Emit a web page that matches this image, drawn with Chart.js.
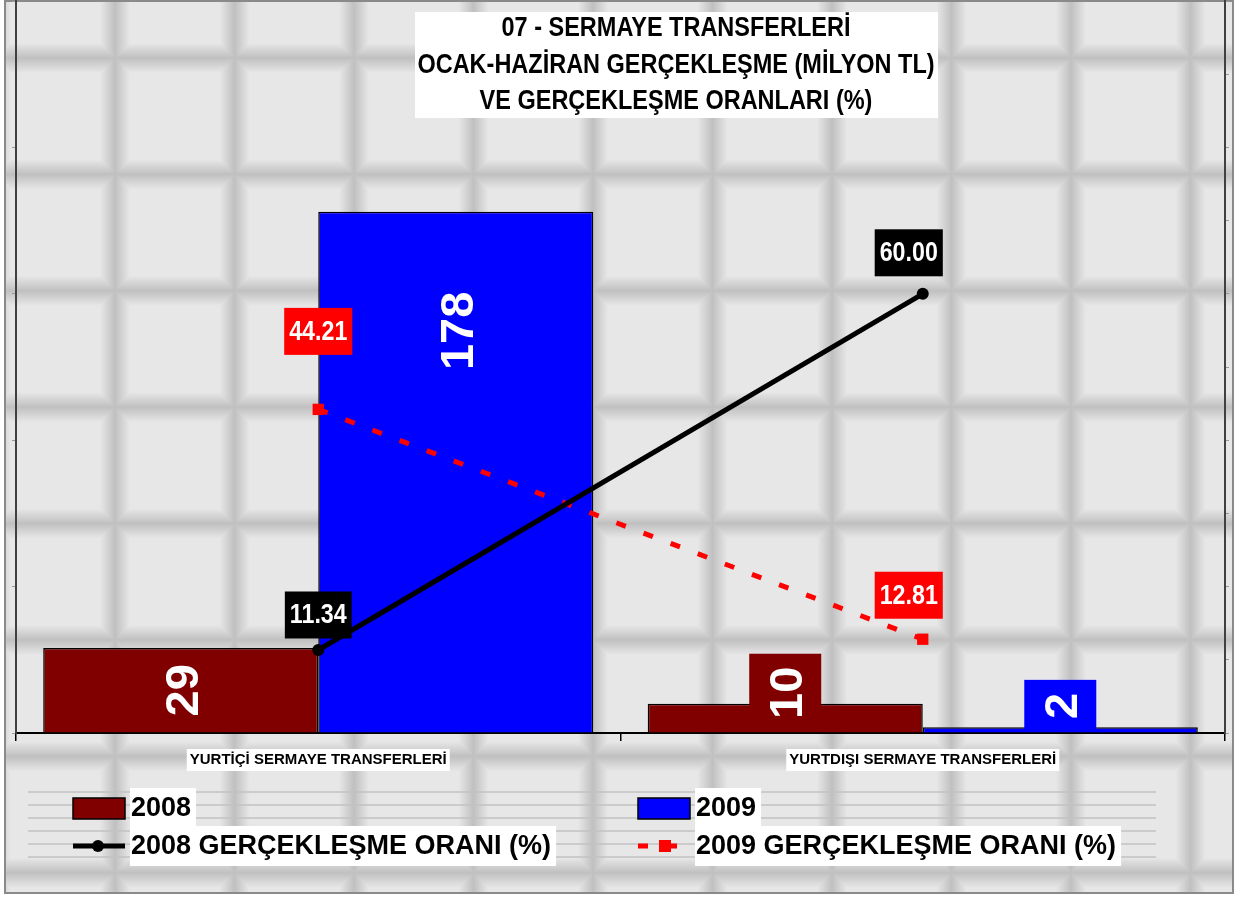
<!DOCTYPE html>
<html>
<head>
<meta charset="utf-8">
<script src="https://cdn.jsdelivr.net/npm/chart.js@4.4.1/dist/chart.umd.min.js"></script>
<style>
  html, body { margin: 0; padding: 0; background: #fff; }
  #wrap { width: 1240px; height: 898px; }
</style>
</head>
<body>
<div id="wrap"><canvas id="chart" width="1240" height="898"></canvas></div>
<script>
// values
const categories = ['YURTİÇİ SERMAYE TRANSFERLERİ', 'YURTDIŞI SERMAYE TRANSFERLERİ'];
const bars2008 = [29, 10];
const bars2009 = [178, 2];
const ratio2008 = [11.34, 60.00];
const ratio2009 = [44.21, 12.81];
const seriesLabels = ['2008', '2009', '2008 GERÇEKLEŞME ORANI (%)', '2009 GERÇEKLEŞME ORANI (%)'];
const titleLines = ['07 - SERMAYE TRANSFERLERİ', 'OCAK-HAZİRAN GERÇEKLEŞME (MİLYON TL)', 'VE GERÇEKLEŞME ORANLARI (%)'];

const FONT = '"Liberation Sans", Arial, sans-serif';

// text squeezed horizontally, like the narrow bold font of the original
function narrowText(ctx, txt, x, y, sx) {
    ctx.save();
    ctx.translate(x, y);
    ctx.scale(sx, 1);
    ctx.fillText(txt, 0, 0);
    ctx.restore();
}

function band(ctx, x0, y0, x1, y1) {
    const g = ctx.createLinearGradient(x0, y0, x1, y1);
    g.addColorStop(0, '#e7e7e7');
    g.addColorStop(0.5, '#c0c0c0');
    g.addColorStop(1, '#e7e7e7');
    return g;
}

// grey tiled backdrop + frame
const tileBackground = {
    id: 'tileBackground',
    beforeDraw(chart) {
        const ctx = chart.ctx, w = chart.width, h = chart.height;
        ctx.save();
        ctx.fillStyle = '#fff';
        ctx.fillRect(0, 0, w, h);
        ctx.beginPath();
        ctx.rect(5, 1, 1228, 892);
        ctx.clip();
        ctx.fillStyle = '#e7e7e7';
        ctx.fillRect(0, 0, w, h);
        ctx.globalCompositeOperation = 'darken';
        const px = 119.5, py = 116.4, half = 15;
        for (let x = 115 - px; x < w + px; x += px) {
            ctx.fillStyle = band(ctx, x - half, 0, x + half, 0);
            ctx.fillRect(x - half, 0, half * 2, h);
        }
        for (let y = 58 - py; y < h + py; y += py) {
            ctx.fillStyle = band(ctx, 0, y - half, 0, y + half);
            ctx.fillRect(0, y - half, w, half * 2);
        }
        ctx.restore();
        ctx.save();
        ctx.strokeStyle = '#8a8a8a';
        ctx.lineWidth = 2;
        ctx.strokeRect(5, 1, 1228, 892);
        ctx.restore();
    }
};

// white title box
const titleBox = {
    id: 'titleBox',
    afterDraw(chart) {
        const ctx = chart.ctx;
        ctx.save();
        ctx.fillStyle = '#fff';
        ctx.fillRect(415, 12, 523, 106);
        ctx.fillStyle = '#000';
        ctx.font = 'bold 27px ' + FONT;
        ctx.textAlign = 'center';
        ctx.textBaseline = 'middle';
        titleLines.forEach((line, i) => narrowText(ctx, line, 676, 29 + i * 36.5, 0.87));
        ctx.restore();
    }
};

// rotated white values on the bars
const barLabels = {
    id: 'barLabels',
    afterDatasetsDraw(chart, args, opts) {
        const ctx = chart.ctx;
        const base = chart.scales.y.getPixelForValue(0);
        chart.data.datasets.forEach((ds, di) => {
            if (ds.type !== 'bar') return;
            chart.getDatasetMeta(di).data.forEach((bar, i) => {
                const txt = String(ds.data[i]);
                ctx.save();
                ctx.font = 'bold 47px ' + FONT;
                const len = ctx.measureText(txt).width + 26;
                let cy = Math.min((bar.y + bar.base) / 2, bar.y + opts.maxDrop);
                if (cy + len / 2 > base - 1) cy = base - 1 - len / 2;
                ctx.fillStyle = ds.backgroundColor;
                ctx.fillRect(bar.x - 36, cy - len / 2, 72, len);
                ctx.translate(bar.x + 2, cy);
                ctx.rotate(-Math.PI / 2);
                ctx.fillStyle = '#fff';
                ctx.textAlign = 'center';
                ctx.textBaseline = 'middle';
                ctx.fillText(txt, 0, 2);
                ctx.restore();
            });
        });
    }
};

// boxed ratio values above the line points
const pointLabels = {
    id: 'pointLabels',
    afterDatasetsDraw(chart, args, opts) {
        const ctx = chart.ctx;
        chart.data.datasets.forEach((ds, di) => {
            if (ds.type !== 'line') return;
            chart.getDatasetMeta(di).data.forEach((pt, i) => {
                const txt = ds.data[i].toFixed(2);
                ctx.save();
                ctx.font = 'bold 27px ' + FONT;
                const bw = ctx.measureText(txt).width * 0.86 + 10, bh = 47;
                const cx = pt.x + opts.shift[i], cy = pt.y - opts.lift[di][i];
                ctx.fillStyle = ds.borderColor;
                ctx.fillRect(cx - bw / 2, cy - bh / 2, bw, bh);
                ctx.fillStyle = '#fff';
                ctx.textAlign = 'center';
                ctx.textBaseline = 'middle';
                narrowText(ctx, txt, cx, cy + 1, 0.86);
                ctx.restore();
            });
        });
    }
};

// two-column legend under the axis
const gridLegend = {
    id: 'gridLegend',
    afterDraw(chart, args, opts) {
        const ctx = chart.ctx;
        ctx.save();
        ctx.strokeStyle = '#c2c2c2';
        ctx.lineWidth = 1.5;
        for (let y = 792; y <= 858; y += 13) {
            ctx.beginPath();
            ctx.moveTo(28, y);
            ctx.lineTo(1156, y);
            ctx.stroke();
        }
        ctx.font = 'bold 27px ' + FONT;
        ctx.textBaseline = 'middle';
        chart.data.datasets.forEach((ds, i) => {
            const x = opts.cols[i % 2], y = opts.rows[Math.floor(i / 2)];
            const tw = ctx.measureText(ds.label).width;
            ctx.fillStyle = '#fff';
            ctx.fillRect(x + 57, y - 20, tw + 6, 40);
            ctx.fillStyle = '#000';
            ctx.fillText(ds.label, x + 58, y + 1);
            if (ds.type === 'bar') {
                ctx.fillStyle = ds.backgroundColor;
                ctx.fillRect(x, y - 10, 52, 21);
                ctx.strokeStyle = '#000';
                ctx.lineWidth = 1.5;
                ctx.strokeRect(x, y - 10, 52, 21);
            } else {
                ctx.strokeStyle = ds.borderColor;
                ctx.lineWidth = ds.borderWidth;
                ctx.setLineDash(ds.borderDash || []);
                ctx.beginPath();
                ctx.moveTo(x, y);
                ctx.lineTo(x + 52, y);
                ctx.stroke();
                ctx.setLineDash([]);
                ctx.fillStyle = ds.pointBackgroundColor;
                if (ds.pointStyle === 'rect') {
                    ctx.fillRect(x + 21, y - 6, 12, 12);
                } else {
                    ctx.beginPath();
                    ctx.arc(x + 25, y, 6, 0, Math.PI * 2);
                    ctx.fill();
                }
            }
        });
        ctx.restore();
    }
};

new Chart(document.getElementById('chart'), {
    data: {
        labels: categories,
        datasets: [
            {
                type: 'bar', label: seriesLabels[0], data: bars2008, yAxisID: 'y', order: 2,
                backgroundColor: '#800000', borderColor: '#000', borderWidth: 1.5,
                barPercentage: 1.0, categoryPercentage: 0.91
            },
            {
                type: 'bar', label: seriesLabels[1], data: bars2009, yAxisID: 'y', order: 2,
                backgroundColor: '#0000ff', borderColor: '#000', borderWidth: 1.5,
                barPercentage: 1.0, categoryPercentage: 0.91
            },
            {
                type: 'line', label: seriesLabels[2], data: ratio2008, yAxisID: 'y1', order: 1,
                borderColor: '#000', borderWidth: 5, tension: 0, fill: false,
                pointStyle: 'circle', pointRadius: 6, pointBackgroundColor: '#000', pointBorderWidth: 0
            },
            {
                type: 'line', label: seriesLabels[3], data: ratio2009, yAxisID: 'y1', order: 1,
                borderColor: '#ff0000', borderWidth: 5, borderDash: [10, 19], tension: 0, fill: false,
                pointStyle: 'rect', pointRadius: 8, pointBackgroundColor: '#ff0000', pointBorderWidth: 0
            }
        ]
    },
    options: {
        responsive: false,
        animation: false,
        devicePixelRatio: 1,
        layout: { autoPadding: false, padding: { left: 12, right: 11, top: 1, bottom: 119 } },
        scales: {
            x: {
                offset: true,
                border: { color: '#000', width: 2 },
                grid: { offset: true, drawOnChartArea: false, tickLength: 8, color: '#000', lineWidth: 1.5 },
                ticks: {
                    color: '#000', font: { family: FONT, size: 15, weight: 'bold' }, padding: 10,
                    maxRotation: 0, showLabelBackdrop: true, backdropColor: '#fff',
                    backdropPadding: { top: 2, bottom: 2, left: 3, right: 3 }
                }
            },
            y: {
                min: 0, max: 250,
                border: { color: '#404040', width: 2 },
                grid: { drawOnChartArea: false, tickLength: 4, color: '#9a9a9a' },
                ticks: { display: false, stepSize: 50 }
            },
            y1: {
                position: 'right', min: 0, max: 100,
                border: { color: '#404040', width: 2 },
                grid: { drawOnChartArea: false, tickLength: 4, color: '#9a9a9a' },
                ticks: { display: false, stepSize: 10 }
            }
        },
        plugins: {
            legend: { display: false },
            title: { display: false },
            tooltip: { enabled: false },
            barLabels: { maxDrop: 119 },
            pointLabels: { shift: [0, -14], lift: [null, null, [35, 41], [78, 44]] },
            gridLegend: { cols: [73, 638], rows: [808, 846] }
        }
    },
    plugins: [tileBackground, barLabels, pointLabels, titleBox, gridLegend]
});
</script>
</body>
</html>
